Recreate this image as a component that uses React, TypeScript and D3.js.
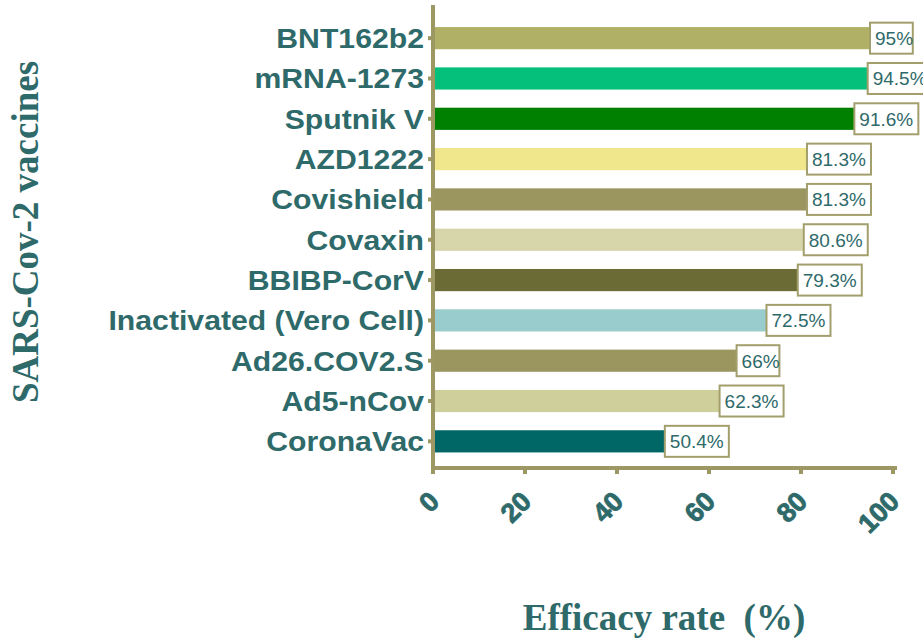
import React from "react"
import * as d3 from "d3"

// vaccines, top to bottom
const vaccines = [
  "BNT162b2",
  "mRNA-1273",
  "Sputnik V",
  "AZD1222",
  "Covishield",
  "Covaxin",
  "BBIBP-CorV",
  "Inactivated (Vero Cell)",
  "Ad26.COV2.S",
  "Ad5-nCov",
  "CoronaVac",
]
const efficacy = [95, 94.5, 91.6, 81.3, 81.3, 80.6, 79.3, 72.5, 66, 62.3, 50.4]
const barColors = [
  "#b0b066",
  "#05c07a",
  "#008000",
  "#f0e68c",
  "#9b9660",
  "#d6d6aa",
  "#6b6b35",
  "#99cccc",
  "#9b9660",
  "#cfcf9c",
  "#006666",
]
const xTicks = [0, 20, 40, 60, 80, 100]

const W = 923
const H = 640
const axisColor = "#9d9763"
const textColor = "#2f6a6a"
const boxBorder = "#a39f6c"

const App = () => {
  const x = d3.scaleLinear().domain([0, 100]).range([433, 893])
  const y = d3.scaleBand().domain(vaccines).range([18, 461.5]).paddingInner(0.45).paddingOuter(0.225)
  const axisY = 468

  return (
    <svg width={W} height={H} style={{ position: "absolute", left: 0, top: 0, background: "#fff" }}>
      {/* bars */}
      {vaccines.map((v, i) => (
        <rect key={v} x={x(0)} y={y(v)} width={x(efficacy[i]) - x(0)} height={y.bandwidth()} fill={barColors[i]} />
      ))}

      {/* value boxes */}
      {vaccines.map((v, i) => {
        const label = efficacy[i] + "%"
        const bw = label.length * 10.6 + 11
        const cy = (y(v) as number) + y.bandwidth() / 2
        return (
          <g key={"lab" + v}>
            <rect x={x(efficacy[i])} y={cy - 15.5} width={bw} height={31} fill="#fff" stroke={boxBorder} strokeWidth={2} />
            <text x={x(efficacy[i]) + 5} y={cy + 7} fontFamily="Liberation Sans, Arial" fontSize={19} fill={textColor}>
              {label}
            </text>
          </g>
        )
      })}

      {/* y axis */}
      <line x1={433} x2={433} y1={5} y2={axisY + 2} stroke={axisColor} strokeWidth={4} />
      {vaccines.map((v) => {
        const cy = (y(v) as number) + y.bandwidth() / 2
        return (
          <g key={"yt" + v}>
            <line x1={428} x2={433} y1={cy} y2={cy} stroke={axisColor} strokeWidth={4} />
            <text
              transform={`translate(424,${cy + 10}) scale(1.06,1)`}
              textAnchor="end"
              fontFamily="Liberation Sans, Arial"
              fontWeight="bold"
              fontSize={28.5}
              fill={textColor}
            >
              {v}
            </text>
          </g>
        )
      })}

      {/* x axis */}
      <line x1={431} x2={897} y1={axisY} y2={axisY} stroke={axisColor} strokeWidth={4} />
      {xTicks.map((t) => (
        <g key={"xt" + t}>
          <line x1={x(t)} x2={x(t)} y1={axisY} y2={axisY + 6} stroke={axisColor} strokeWidth={4} />
          <text
            transform={`translate(${x(t) + 8},${503}) rotate(-45)`}
            textAnchor="end"
            fontFamily="Liberation Sans, Arial"
            fontWeight="bold"
            fontSize={27}
            fill={textColor}
            stroke={textColor}
            strokeWidth={0.8}
          >
            {t}
          </text>
        </g>
      ))}

      {/* axis titles */}
      <text
        transform={`translate(38,232) rotate(-90)`}
        textAnchor="middle"
        fontFamily="Liberation Serif, Times New Roman"
        fontWeight="bold"
        fontSize={37}
        fill={textColor}
      >
        SARS-Cov-2 vaccines
      </text>
      <text x={664} y={630} textAnchor="middle" fontFamily="Liberation Serif, Times New Roman" fontWeight="bold" fontSize={37} fill={textColor} style={{ whiteSpace: "pre" }}>
        {"Efficacy rate  (%)"}
      </text>
    </svg>
  )
}

export default App
